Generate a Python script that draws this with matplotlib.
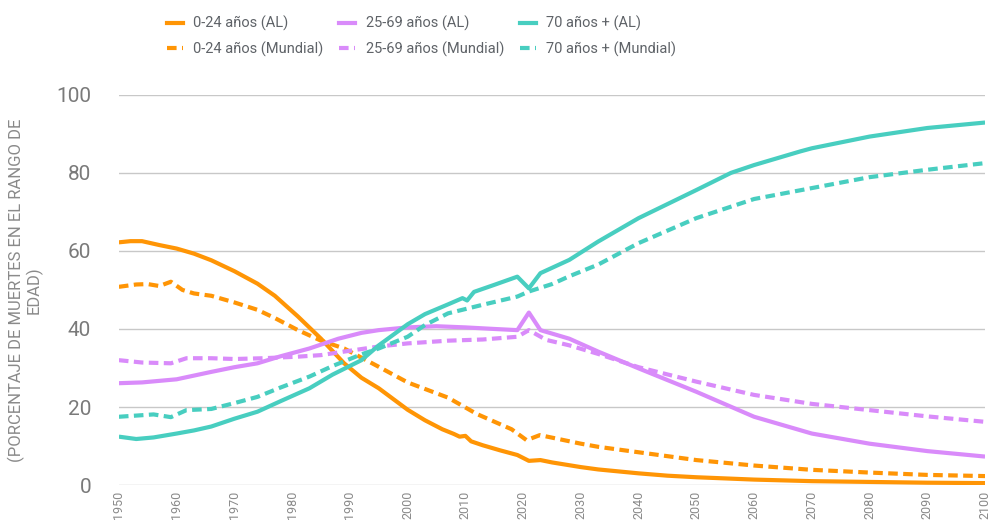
import matplotlib
matplotlib.use("Agg")
import matplotlib.pyplot as plt
from matplotlib.lines import Line2D

# Familles de polices
fuente = ['Roboto', 'DejaVu Sans']

# Données (années, % de décès)
anos_024_al = [1950, 1952, 1954, 1957, 1960, 1963, 1966, 1970, 1974, 1977, 1981, 1985, 1989, 1992, 1995,
               1997, 2000, 2003, 2006, 2008, 2009, 2010, 2011, 2013, 2016, 2019, 2021, 2023, 2025, 2030,
               2033, 2040, 2045, 2050, 2060, 2070, 2080, 2090, 2100]
val_024_al = [62.2, 62.5, 62.5, 61.5, 60.6, 59.3, 57.6, 54.8, 51.6, 48.5, 43.2, 37.5, 31.2, 27.5, 24.8,
              22.6, 19.3, 16.6, 14.3, 13.1, 12.4, 12.6, 11.2, 10.2, 8.9, 7.7, 6.2, 6.4, 5.8, 4.6,
              4.0, 3.0, 2.4, 2.0, 1.4, 1.0, 0.8, 0.6, 0.5]

anos_024_mun = [1950, 1953, 1955, 1957, 1959, 1961, 1963, 1966, 1970, 1974, 1977, 1981, 1985, 1989, 1995,
                2000, 2007, 2012, 2018, 2020.6, 2022.9, 2030, 2033, 2040, 2050, 2060, 2070, 2080, 2090, 2100]
val_024_mun = [50.8, 51.4, 51.5, 51.0, 52.1, 50.0, 49.1, 48.5, 46.8, 44.9, 42.8, 39.7, 37.0, 35.0, 30.3,
               26.3, 22.4, 18.2, 14.3, 11.5, 12.8, 10.6, 9.8, 8.4, 6.4, 5.0, 3.9, 3.2, 2.6, 2.3]

anos_2569_al = [1950, 1954, 1960, 1966, 1970, 1974, 1978, 1983, 1988, 1992, 1995, 2000, 2005, 2010, 2015,
                2019, 2021, 2023, 2028, 2033, 2040, 2050, 2060, 2070, 2080, 2090, 2100]
val_2569_al = [26.1, 26.3, 27.1, 29.0, 30.2, 31.2, 33.0, 35.0, 37.5, 39.0, 39.7, 40.4, 40.7, 40.4, 40.0,
               39.7, 44.2, 39.7, 37.5, 34.2, 29.9, 23.9, 17.5, 13.2, 10.6, 8.7, 7.3]

anos_2569_mun = [1950, 1954, 1959, 1961.7, 1966, 1970, 1975, 1981, 1985, 1989, 1995, 2000, 2007, 2013,
                 2019, 2021, 2024, 2028, 2033, 2040, 2050, 2060, 2070, 2080, 2090, 2100]
val_2569_mun = [32.0, 31.4, 31.2, 32.5, 32.5, 32.3, 32.5, 32.9, 33.3, 34.2, 35.5, 36.3, 37.0, 37.3,
                38.0, 39.7, 37.2, 35.8, 33.6, 30.2, 26.5, 23.1, 20.8, 19.2, 17.6, 16.2]

anos_70_al = [1950, 1953, 1956, 1960, 1963, 1966, 1970, 1974, 1978, 1983, 1987, 1992, 1995, 2000, 2003,
              2007, 2009.5, 2010.3, 2011.5, 2015, 2019, 2021, 2023, 2028, 2033, 2040, 2050, 2056, 2060,
              2068, 2070, 2080, 2090, 2100]
val_70_al = [12.4, 11.8, 12.2, 13.2, 14.0, 15.0, 17.0, 18.8, 21.5, 24.8, 28.3, 32.0, 35.8, 41.2, 43.8,
             46.3, 47.9, 47.3, 49.5, 51.3, 53.4, 50.4, 54.3, 57.7, 62.4, 68.4, 75.6, 80.0, 82.0,
             85.5, 86.3, 89.3, 91.5, 92.9]

anos_70_mun = [1950, 1956, 1959, 1961.7, 1966, 1970, 1974, 1978, 1983, 1987, 1992, 1995, 2000, 2003, 2007,
               2013, 2019, 2021, 2025, 2028, 2033, 2040, 2050, 2060, 2070, 2080, 2090, 2100]
val_70_mun = [17.5, 18.1, 17.4, 19.2, 19.5, 21.0, 22.6, 25.0, 27.8, 30.5, 33.5, 35.0, 38.0, 41.0, 44.0,
              46.2, 48.3, 49.6, 51.5, 53.5, 56.5, 62.0, 68.4, 73.3, 76.1, 78.9, 80.8, 82.5]

etiquetas = ['0-24 años (AL)', '0-24 años (Mundial)',
             '25-69 años (AL)', '25-69 años (Mundial)',
             '70 años + (AL)', '70 años + (Mundial)']

naranja = '#FF9505'
violeta = '#D98BFA'
turquesa = '#48CEC0'
guiones = (0, (2.3, 1.3))

fig = plt.figure(figsize=(9.91, 5.21), dpi=100)
ax = fig.add_axes([0.120, 0.069, 0.874, 0.749])

series = [
    (anos_024_al, val_024_al, naranja, '-'),
    (anos_024_mun, val_024_mun, naranja, guiones),
    (anos_2569_al, val_2569_al, violeta, '-'),
    (anos_2569_mun, val_2569_mun, violeta, guiones),
    (anos_70_al, val_70_al, turquesa, '-'),
    (anos_70_mun, val_70_mun, turquesa, guiones),
]
for x, y, c, ls in series:
    ax.plot(x, y, color=c, linestyle=ls, lw=3.0, solid_capstyle='butt', dash_capstyle='butt', zorder=3)

ax.set_xlim(1950, 2100)
ax.set_ylim(0, 100)
ax.set_xticks(range(1950, 2101, 10))
ax.set_yticks(range(0, 101, 20))
ax.grid(axis='y', color='#c8c8c8', lw=1.0, zorder=0)
for s in ax.spines.values():
    s.set_visible(False)
ax.tick_params(axis='both', length=0)
ax.tick_params(axis='y', pad=20, labelsize=15, labelcolor='#7a7a7a')
ax.tick_params(axis='x', pad=4, labelsize=9, labelcolor='#8a8a8a', labelrotation=90)
for t in ax.get_xticklabels() + ax.get_yticklabels():
    t.set_family(fuente)

ax.set_ylabel('(PORCENTAJE DE MUERTES EN EL RANGO DE\nEDAD)', family=fuente, fontsize=12,
              color='#8a8a8a', linespacing=1.05)
ax.yaxis.set_label_coords(-0.088, 0.5)

manijas = [Line2D([], [], color=c, linestyle=ls, lw=3.0, dash_capstyle='butt') for _, _, c, ls in series]
leg = fig.legend(manijas, etiquetas, ncol=3, loc='upper left', bbox_to_anchor=(0.155, 0.995),
                 frameon=False, handlelength=1.1, handletextpad=0.7, columnspacing=1.1,
                 labelspacing=0.72, prop={'family': fuente, 'size': 10.5})
for t in leg.get_texts():
    t.set_color('#5f6368')

fig.savefig('out.png', dpi=100)
